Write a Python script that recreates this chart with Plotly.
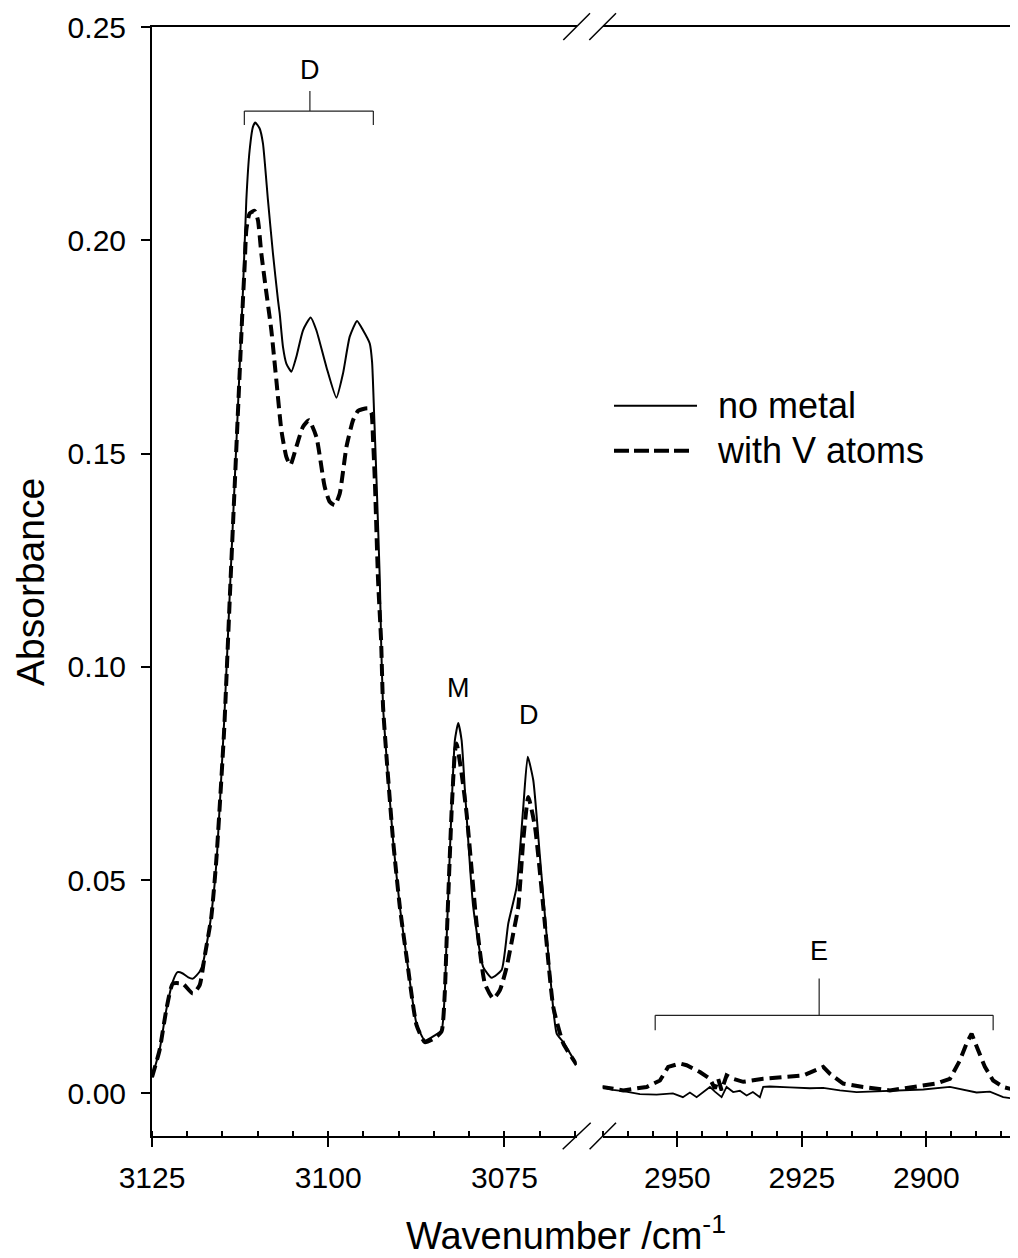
import plotly.graph_objects as go

# ---------------- data ----------------
# left segment (3125 - 3065 cm-1)
wn_left_nometal = [3125.00, 3123.93, 3122.98, 3122.05, 3121.38, 3120.63, 3119.85, 3119.20, 3118.25, 3117.78,
                   3116.83, 3116.12, 3115.74, 3114.77, 3113.89, 3112.10, 3111.62, 3111.15, 3110.68, 3110.34,
                   3109.73, 3109.26, 3108.55, 3107.84, 3107.13, 3106.89, 3106.42, 3105.94, 3105.23, 3104.52,
                   3103.58, 3102.49, 3101.68, 3100.26, 3098.84, 3097.90, 3096.95, 3095.91, 3095.06, 3094.11,
                   3093.78, 3093.49, 3093.15, 3092.68, 3092.50, 3092.22, 3091.73, 3090.80, 3089.84, 3088.89,
                   3087.47, 3086.29, 3084.87, 3083.92, 3083.45, 3083.21, 3082.50, 3082.03, 3081.56, 3081.08,
                   3080.61, 3079.43, 3078.01, 3076.82, 3075.40, 3074.46, 3073.27, 3072.33, 3071.70, 3070.91,
                   3069.96, 3068.54, 3067.59, 3066.65, 3064.75]
abs_left_nometal = [0.0038, 0.0101, 0.0195, 0.0262, 0.0284, 0.0281, 0.0272, 0.0269, 0.0285, 0.0304,
                    0.0390, 0.0490, 0.0570, 0.0870, 0.1200, 0.1880, 0.2094, 0.2211, 0.2266, 0.2276,
                    0.2262, 0.2227, 0.2094, 0.1969, 0.1860, 0.1829, 0.1750, 0.1711, 0.1692, 0.1727,
                    0.1789, 0.1819, 0.1789, 0.1703, 0.1631, 0.1688, 0.1774, 0.1811, 0.1789, 0.1758,
                    0.1715, 0.1594, 0.1438, 0.1203, 0.1062, 0.0906, 0.0789, 0.0593, 0.0437, 0.0320,
                    0.0163, 0.0124, 0.0136, 0.0148, 0.0242, 0.0359, 0.0671, 0.0828, 0.0868, 0.0828,
                    0.0711, 0.0437, 0.0296, 0.0271, 0.0289, 0.0398, 0.0484, 0.0671, 0.0789, 0.0734,
                    0.0554, 0.0281, 0.0140, 0.0120, 0.0067]

wn_left_v = [3125.00, 3123.93, 3122.98, 3122.05, 3120.63, 3119.20, 3118.25, 3117.54, 3116.59, 3115.88,
             3114.77, 3113.89, 3112.10, 3111.86, 3111.62, 3111.15, 3110.44, 3109.97, 3109.49, 3108.88,
             3108.07, 3107.36, 3106.65, 3105.94, 3105.37, 3104.52, 3103.58, 3102.73, 3101.68, 3100.50,
             3099.79, 3099.08, 3098.37, 3097.41, 3096.48, 3095.77, 3094.35, 3093.86, 3093.64, 3093.39,
             3092.93, 3092.50, 3092.22, 3091.73, 3090.80, 3089.84, 3088.89, 3087.47, 3086.29, 3084.87,
             3083.92, 3083.45, 3083.21, 3082.50, 3082.03, 3081.79, 3081.08, 3080.37, 3078.95, 3077.77,
             3076.59, 3075.64, 3074.69, 3073.75, 3073.04, 3072.33, 3071.62, 3070.67, 3069.49, 3068.07,
             3066.65, 3064.75]
abs_left_v = [0.0038, 0.0101, 0.0195, 0.0257, 0.0257, 0.0234, 0.0253, 0.0320, 0.0413, 0.0546,
              0.0850, 0.1190, 0.1860, 0.1938, 0.2024, 0.2063, 0.2069, 0.2047, 0.1969, 0.1890,
              0.1789, 0.1672, 0.1555, 0.1492, 0.1473, 0.1516, 0.1563, 0.1578, 0.1539, 0.1422,
              0.1387, 0.1379, 0.1406, 0.1516, 0.1578, 0.1600, 0.1606, 0.1594, 0.1531, 0.1438,
              0.1203, 0.1062, 0.0906, 0.0789, 0.0593, 0.0437, 0.0320, 0.0160, 0.0120, 0.0130,
              0.0145, 0.0240, 0.0355, 0.0660, 0.0800, 0.0820, 0.0750, 0.0656, 0.0398, 0.0257,
              0.0222, 0.0242, 0.0296, 0.0375, 0.0437, 0.0593, 0.0695, 0.0625, 0.0437, 0.0202,
              0.0117, 0.0067]

# right segment (2965 - 2882 cm-1)
wn_right_nometal = [2965.22, 2962.95, 2960.88, 2957.53, 2954.18, 2950.90, 2948.90, 2947.49, 2946.14, 2944.88,
                    2943.47, 2942.47, 2941.12, 2940.12, 2938.80, 2937.45, 2936.10, 2934.84, 2933.43, 2932.77,
                    2931.43, 2927.41, 2923.39, 2920.72, 2917.37, 2914.02, 2909.34, 2905.32, 2900.64, 2895.28,
                    2892.67, 2889.92, 2887.25, 2884.58, 2881.89]
abs_right_nometal = [0.0015, 0.0008, 0.0005, -0.0002, -0.0003, 0.0000, -0.0009, 0.0002, -0.0009, 0.0003,
                     0.0015, 0.0004, -0.0009, 0.0015, 0.0003, 0.0006, -0.0005, 0.0003, -0.0009, 0.0015,
                     0.0016, 0.0014, 0.0012, 0.0013, 0.0007, 0.0003, 0.0005, 0.0006, 0.0009, 0.0015,
                     0.0008, 0.0002, 0.0004, -0.0009, -0.0013]

wn_right_v = [2965.22, 2960.88, 2956.18, 2953.51, 2951.85, 2949.50, 2948.15, 2945.48, 2943.47, 2942.47,
              2941.81, 2941.12, 2940.12, 2938.80, 2936.79, 2935.44, 2932.77, 2928.76, 2924.74, 2920.72,
              2919.38, 2916.71, 2912.69, 2907.33, 2901.97, 2897.95, 2895.28, 2893.27, 2891.93, 2890.92,
              2889.60, 2888.25, 2886.59, 2884.58, 2881.89]
abs_right_v = [0.0015, 0.0007, 0.0015, 0.0030, 0.0062, 0.0070, 0.0066, 0.0050, 0.0034, 0.0011,
               0.0034, 0.0007, 0.0042, 0.0034, 0.0027, 0.0030, 0.0034, 0.0038, 0.0042, 0.0062,
               0.0046, 0.0023, 0.0015, 0.0007, 0.0015, 0.0023, 0.0034, 0.0077, 0.0117, 0.0140,
               0.0101, 0.0062, 0.0030, 0.0015, 0.0007]

series_names = ["no metal", "with V atoms"]

# axis settings
left_range = [3125, 3064.75]
right_range = [2965, 2881.6]
y_range = [-0.01, 0.25]
y_ticks = [0.00, 0.05, 0.10, 0.15, 0.20, 0.25]
y_ticklabels = ["0.00", "0.05", "0.10", "0.15", "0.20", "0.25"]

# band labels: (text, x, y, axis)
band_labels = [("D", 3102.6, 0.2400, "x"), ("M", 3081.46, 0.0950, "x"),
               ("D", 3071.52, 0.0886, "x"), ("E", 2921.53, 0.0333, "x2")]
# brackets: (x_start, x_end, x_center, y_bar, y_foot, y_top, axis)
brackets = [(3111.9, 3093.6, 3102.6, 0.2303, 0.2270, 0.2350, "x"),
            (2954.46, 2886.59, 2921.53, 0.0183, 0.0148, 0.0269, "x2")]

FONT = "Liberation Sans, Arial, sans-serif"
OFF = 8  # page body margin
W, H = 1018 - OFF, 1258 - OFF
ML, MR, MT, MB = 152 - OFF, 0, 27 - OFF, 122

fig = go.Figure()

solid = dict(color="black", width=2, shape="spline", smoothing=0.5)
dashed = dict(color="black", width=4, dash="12px,6px", shape="spline", smoothing=0.5)
solid_r = dict(color="black", width=1.8)
dashed_r = dict(color="black", width=4, dash="12px,6px")

fig.add_trace(go.Scatter(x=wn_left_nometal, y=abs_left_nometal, mode="lines", line=solid,
                         name=series_names[0], xaxis="x", yaxis="y", showlegend=False))
fig.add_trace(go.Scatter(x=wn_left_v, y=abs_left_v, mode="lines", line=dashed,
                         name=series_names[1], xaxis="x", yaxis="y", showlegend=False))
fig.add_trace(go.Scatter(x=wn_right_nometal, y=abs_right_nometal, mode="lines", line=solid_r,
                         name=series_names[0], xaxis="x2", yaxis="y", showlegend=False))
fig.add_trace(go.Scatter(x=wn_right_v, y=abs_right_v, mode="lines", line=dashed_r,
                         name=series_names[1], xaxis="x2", yaxis="y", showlegend=False))

pw = W - ML - MR
ph = H - MT - MB


def px_x(px):
    # screen pixel -> paper fraction
    return (px - OFF - ML) / pw


def px_y(py):
    return (H - MB - (py - OFF)) / ph


xcommon = dict(showline=True, linecolor="black", linewidth=2, mirror=True,
               ticks="outside", ticklen=9, tickwidth=2, tickcolor="black",
               dtick=25, showgrid=False, zeroline=False,
               tickfont=dict(family=FONT, size=30, color="black"),
               minor=dict(dtick=5, ticks="inside", ticklen=5, tickwidth=1.5, tickcolor="black", showgrid=False),
               ticklabelstandoff=5)

fig.update_layout(
    width=W, height=H,
    margin=dict(l=ML, r=MR, t=MT, b=MB),
    paper_bgcolor="white", plot_bgcolor="white",
    showlegend=False,
    xaxis=dict(domain=[0, px_x(576.7)], range=left_range, anchor="y", **xcommon),
    xaxis2=dict(domain=[px_x(602.7), 1], range=right_range, anchor="y", **xcommon),
    yaxis=dict(range=y_range, tickvals=y_ticks, ticktext=y_ticklabels,
               showline=True, linecolor="black", linewidth=2,
               ticks="outside", ticklen=9, tickwidth=2, tickcolor="black",
               showgrid=False, zeroline=False, ticklabelstandoff=9,
               tickfont=dict(family=FONT, size=30, color="black")),
)

shapes = []
# brackets
for x0, x1, xc, yb, yf, yt, ax in brackets:
    ln = dict(color="#222", width=1.2)
    shapes.append(dict(type="line", xref=ax, yref="y", x0=x0, x1=x1, y0=yb, y1=yb, line=ln))
    shapes.append(dict(type="line", xref=ax, yref="y", x0=x0, x1=x0, y0=yb, y1=yf, line=ln))
    shapes.append(dict(type="line", xref=ax, yref="y", x0=x1, x1=x1, y0=yb, y1=yf, line=ln))
    shapes.append(dict(type="line", xref=ax, yref="y", x0=xc, x1=xc, y0=yb, y1=yt, line=ln))

# axis break marks
brk = dict(color="black", width=1.5)
for (ax0, ay0, ax1, ay1) in [(563.3, 40, 590, 13.3), (589.3, 40, 616, 13.3),
                             (562.7, 1149.3, 590.7, 1122.7), (589.6, 1149.3, 616, 1122.7)]:
    shapes.append(dict(type="line", xref="paper", yref="paper",
                       x0=px_x(ax0), y0=px_y(ay0), x1=px_x(ax1), y1=px_y(ay1), line=brk))

# legend keys
shapes.append(dict(type="line", xref="paper", yref="paper", x0=px_x(614), x1=px_x(697),
                   y0=px_y(405.7), y1=px_y(405.7), line=dict(color="black", width=2)))
shapes.append(dict(type="line", xref="paper", yref="paper", x0=px_x(614), x1=px_x(692),
                   y0=px_y(450.7), y1=px_y(450.7), line=dict(color="black", width=4, dash="15px,5px")))
fig.update_layout(shapes=shapes)

annotations = []
for txt, x, y, ax in band_labels:
    annotations.append(dict(text=txt, x=x, y=y, xref=ax, yref="y", showarrow=False,
                            xanchor="center", yanchor="middle",
                            font=dict(family=FONT, size=27, color="black")))
annotations.append(dict(text=series_names[0], x=px_x(716), y=px_y(405), xref="paper", yref="paper",
                        showarrow=False, xanchor="left", yanchor="middle",
                        font=dict(family=FONT, size=36, color="black")))
annotations.append(dict(text=series_names[1], x=px_x(715), y=px_y(450), xref="paper", yref="paper",
                        showarrow=False, xanchor="left", yanchor="middle",
                        font=dict(family=FONT, size=36, color="black")))
annotations.append(dict(text="Wavenumber /cm<sup>-1</sup>", x=px_x(566), y=px_y(1233), xref="paper", yref="paper",
                        showarrow=False, xanchor="center", yanchor="middle", borderpad=0,
                        font=dict(family=FONT, size=38, color="black")))
annotations.append(dict(text="Absorbance", x=px_x(30), y=px_y(582), xref="paper", yref="paper",
                        showarrow=False, xanchor="center", yanchor="middle", textangle=-90, borderpad=0,
                        font=dict(family=FONT, size=39, color="black")))
fig.update_layout(annotations=annotations)

fig.write_html("out.html")
